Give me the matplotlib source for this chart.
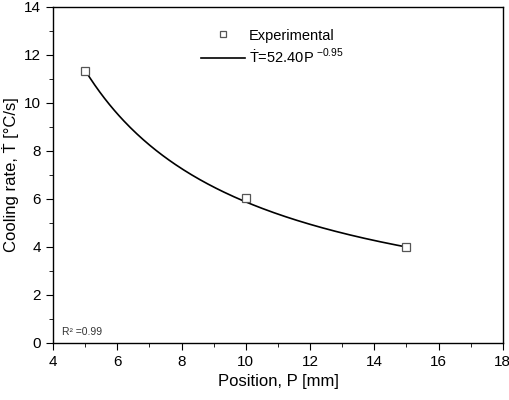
import matplotlib
matplotlib.use("Agg")
import matplotlib.pyplot as plt
import numpy as np
from matplotlib.ticker import MultipleLocator

plt.rcParams['font.family'] = ['Liberation Sans', 'DejaVu Sans']

# experimental points
position = [5, 10, 15]
cooling_rate = [11.35, 6.05, 4.0]

# power-law fit  Tdot = a * P^b
fit_a = 52.40
fit_b = -0.95

fig = plt.figure(figsize=(5.1, 4.0), dpi=100)
ax = fig.add_axes([0.104, 0.1425, 0.882, 0.84])

p = np.linspace(min(position), max(position), 200)
ax.plot(p, fit_a * p ** fit_b, color='black', lw=1.2,
        label='Ṫ=52.40P$^{\\ \\mathregular{-0.95}}$')
ax.plot(position, cooling_rate, 's', ms=5.5, mfc='white', mec='#555555',
        mew=0.9, label='Experimental')

ax.set_xlim(4, 18)
ax.set_ylim(0, 14)
ax.xaxis.set_major_locator(MultipleLocator(2))
ax.xaxis.set_minor_locator(MultipleLocator(1))
ax.yaxis.set_major_locator(MultipleLocator(2))
ax.yaxis.set_minor_locator(MultipleLocator(1))
ax.tick_params(which='both', direction='out', top=False, right=False, labelsize=11)
ax.tick_params(which='major', length=5)
ax.tick_params(which='minor', length=3)
for s in ax.spines.values():
    s.set_linewidth(1.0)

ax.set_xlabel('Position, P [mm]', fontsize=12)
ax.set_ylabel('Cooling rate, Ṫ [°C/s]', fontsize=12)

h, l = ax.get_legend_handles_labels()
ax.legend(h[::-1], l[::-1], loc='upper left', bbox_to_anchor=(0.30, 0.975),
          frameon=False, fontsize=10.5, handlelength=3.0, handletextpad=0.3,
          labelspacing=0.3, markerscale=0.85)

ax.text(0.02, 0.025, 'R² =0.99', transform=ax.transAxes, fontsize=7.5, color='#333333')

fig.savefig('out.png')
